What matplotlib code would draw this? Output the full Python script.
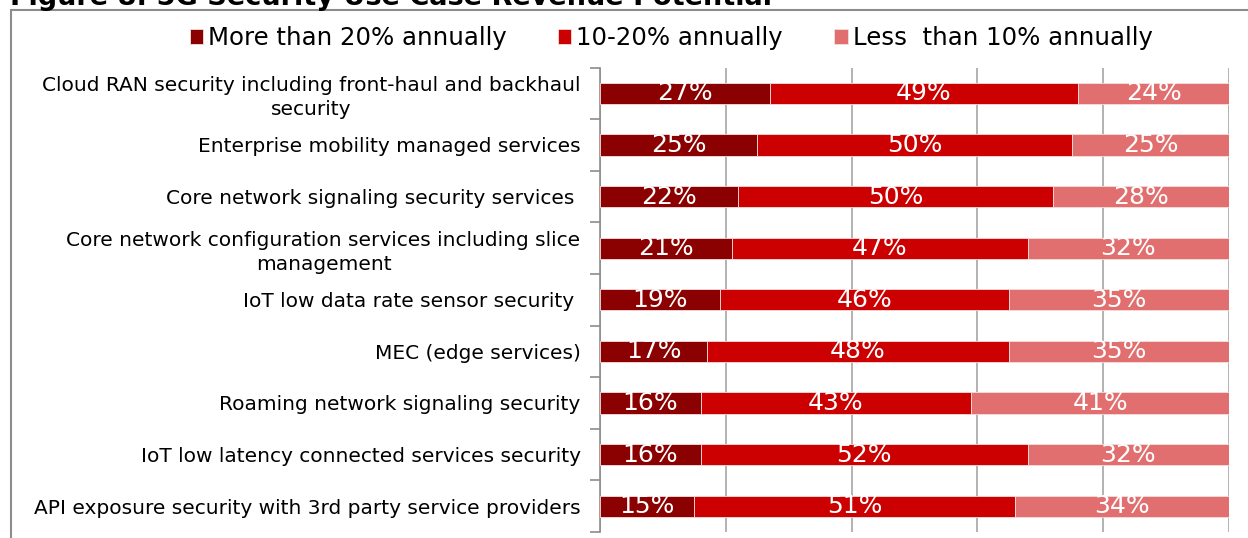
import matplotlib.pyplot as plt
from matplotlib.patches import Rectangle
import numpy as np

# use cases, top to bottom
categories = [
    "Cloud RAN security including front-haul and backhaul\nsecurity",
    "Enterprise mobility managed services",
    "Core network signaling security services ",
    "Core network configuration services including slice\nmanagement",
    "IoT low data rate sensor security ",
    "MEC (edge services)",
    "Roaming network signaling security",
    "IoT low latency connected services security",
    "API exposure security with 3rd party service providers",
]
series_names = ["More than 20% annually", "10-20% annually", "Less  than 10% annually"]
over_20 = [27, 25, 22, 21, 19, 17, 16, 16, 15]
from_10_to_20 = [49, 50, 50, 47, 46, 48, 43, 52, 51]
under_10 = [24, 25, 28, 32, 35, 35, 41, 32, 34]
colors = ["#8B0000", "#CC0000", "#E26F6F"]

plt.rcParams["font.family"] = ["DejaVu Sans"]

fig = plt.figure(figsize=(12.48, 5.38), dpi=100)
ax = fig.add_axes([0.4808, 0.0112, 0.504, 0.8633])

y = np.arange(len(categories))
left = np.zeros(len(categories))
for name, vals, col in zip(series_names, [over_20, from_10_to_20, under_10], colors):
    bars = ax.barh(y, vals, left=left, height=0.41, color=col, label=name,
                   edgecolor="#f4dede", linewidth=0.6, zorder=3)
    ax.bar_label(bars, labels=[f"{v}%" for v in vals], label_type="center",
                 color="white", fontsize=18, zorder=4)
    left += np.array(vals)

ax.set_xlim(0, 100)
ax.set_ylim(len(categories) - 0.5, -0.5)
ax.set_xticks([0, 20, 40, 60, 80, 100])
ax.xaxis.grid(True, color="#a6a6a6", linewidth=1.2, zorder=0)
ax.tick_params(axis="x", length=0, labelbottom=False)

ax.set_yticks(y)
ax.set_yticklabels(categories, fontsize=14.5, multialignment="center",
                   linespacing=1.3)
ax.set_yticks(np.arange(-0.5, len(categories), 1), minor=True)
ax.tick_params(axis="y", which="major", length=0, pad=14)
ax.tick_params(axis="y", which="minor", length=7, width=1.2, color="#8c8c8c")

for side in ["top", "right", "bottom"]:
    ax.spines[side].set_visible(False)
ax.spines["left"].set_color("#8c8c8c")
ax.spines["left"].set_linewidth(1.2)

# outer frame around the chart
fig.patches.append(Rectangle((11 / 1248, -0.1), 1.2, 1.1 - 10 / 538,
                             transform=fig.transFigure, fill=False,
                             edgecolor="#8c8c8c", linewidth=1.5))

fig.text(10 / 1248, 1 - 5 / 538, "Figure 8: 5G Security Use Case Revenue Potential",
         fontsize=19.5, fontweight="bold", va="baseline", ha="left")

fig.legend(loc="center", bbox_to_anchor=(671 / 1248, 1 - 38 / 538), ncol=3,
           frameon=False, fontsize=17.6, handlelength=0.55, handleheight=0.55,
           handletextpad=0.2, columnspacing=2.1)

fig.savefig("out.png", dpi=100)
